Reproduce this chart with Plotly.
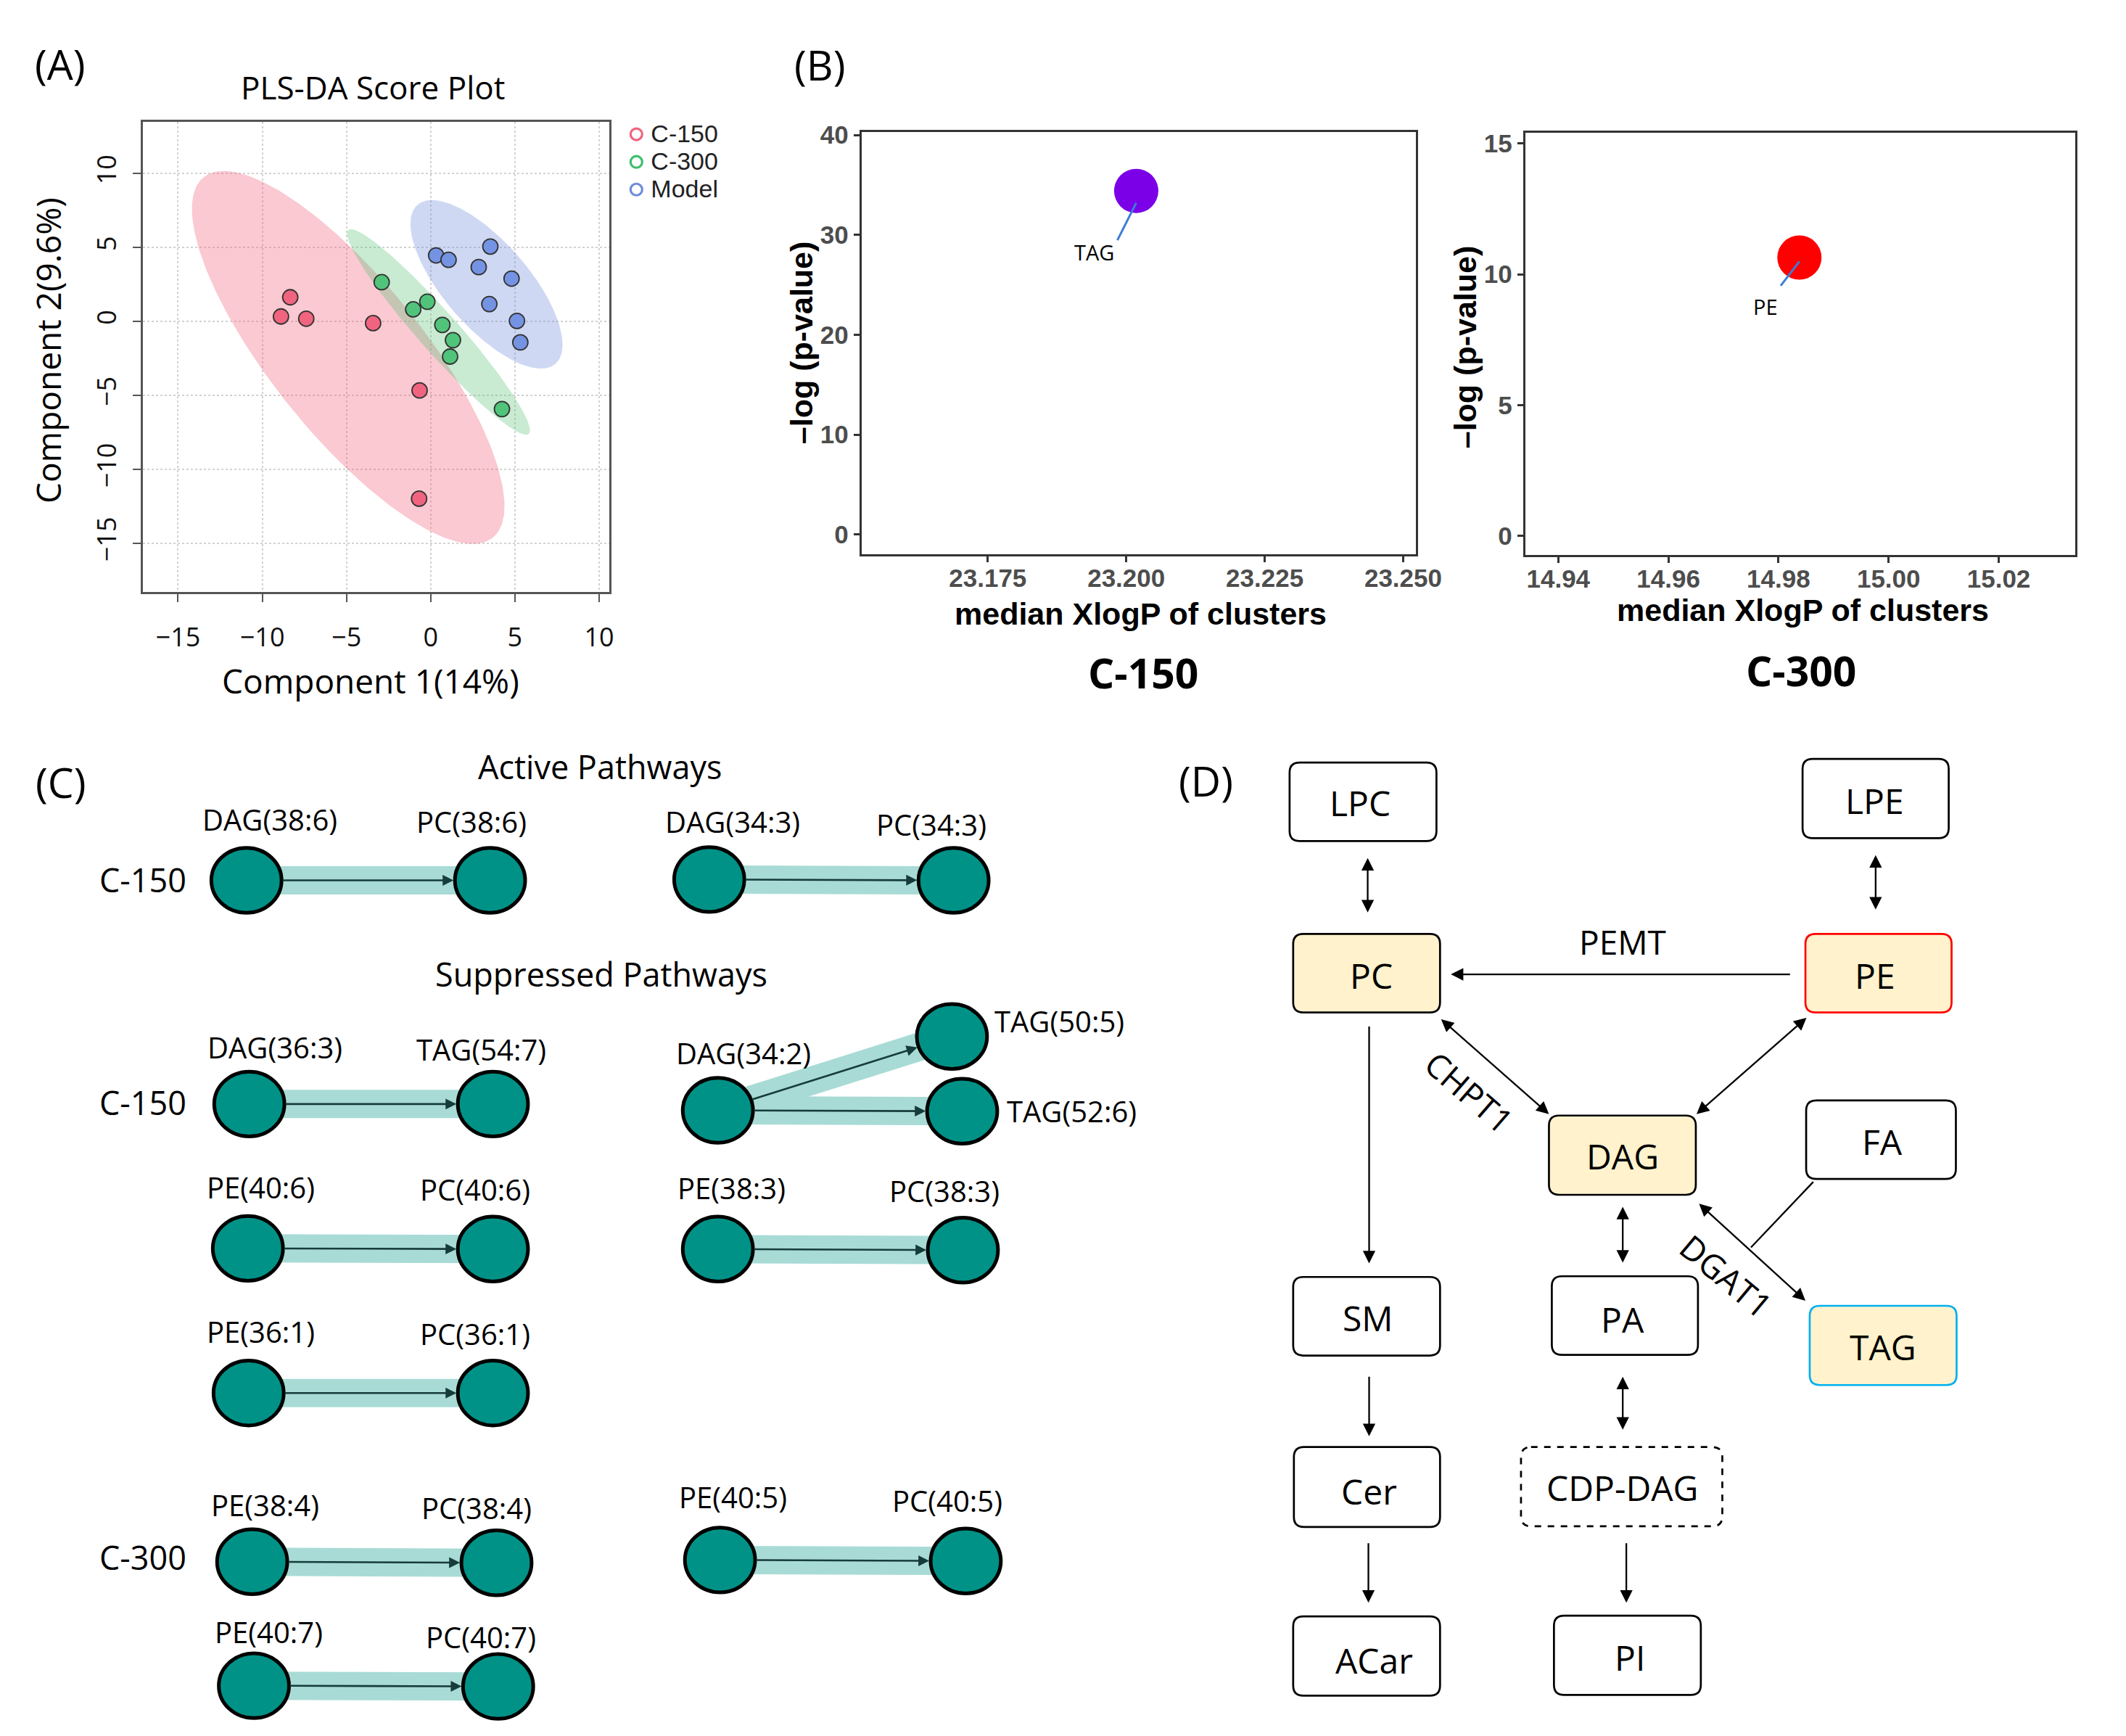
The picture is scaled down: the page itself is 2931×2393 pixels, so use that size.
import numpy as np
import plotly.graph_objects as go

W, H = 2931, 2393

# ---------------- Panel A data (PLS-DA scores) ----------------
a_groups = ["C-150", "C-300", "Model"]
c150_x = [-8.34, -8.89, -7.39, -3.42, -0.66, -0.69]
c150_y = [1.63, 0.33, 0.18, -0.12, -4.67, -11.99]
c300_x = [-2.91, -1.04, -0.20, 0.69, 1.32, 1.15, 4.23]
c300_y = [2.65, 0.81, 1.33, -0.24, -1.27, -2.38, -5.93]
model_x = [0.32, 1.06, 3.54, 2.85, 4.80, 3.48, 5.12, 5.32]
model_y = [4.46, 4.16, 5.06, 3.67, 2.89, 1.17, 0.03, -1.42]
a_xticks = [-15, -10, -5, 0, 5, 10]
a_yticks = [-15, -10, -5, 0, 5, 10]

# ---------------- Panel B data (cluster bubbles) ----------------
b150_x = [23.2018]
b150_y = [34.40]
b150_label = ["TAG"]
b300_x = [14.9838]
b300_y = [10.64]
b300_label = ["PE"]
b150_xticks = [23.175, 23.200, 23.225, 23.250]
b150_xticktext = ["23.175", "23.200", "23.225", "23.250"]
b150_yticks = [0, 10, 20, 30, 40]
b300_xticks = [14.94, 14.96, 14.98, 15.00, 15.02]
b300_xticktext = ["14.94", "14.96", "14.98", "15.00", "15.02"]
b300_yticks = [0, 5, 10, 15]

# ---------------- Panel C data (pathways) ----------------
c_edges = [
    ("DAG(38:6)", "PC(38:6)"), ("DAG(34:3)", "PC(34:3)"),
    ("DAG(36:3)", "TAG(54:7)"), ("DAG(34:2)", "TAG(50:5)"), ("DAG(34:2)", "TAG(52:6)"),
    ("PE(40:6)", "PC(40:6)"), ("PE(38:3)", "PC(38:3)"), ("PE(36:1)", "PC(36:1)"),
    ("PE(38:4)", "PC(38:4)"), ("PE(40:5)", "PC(40:5)"), ("PE(40:7)", "PC(40:7)"),
]
c_row_labels = ["C-150", "C-150", "C-300"]
c_section_titles = ["Active Pathways", "Suppressed Pathways"]

# ---------------- Panel D data (lipid network) ----------------
d_nodes = ["LPC", "LPE", "PC", "PE", "DAG", "FA", "SM", "PA", "TAG", "Cer", "CDP-DAG", "ACar", "PI"]
d_edges = [  # (from, to, both-directions)
    ("LPC", "PC", True), ("LPE", "PE", True), ("PE", "PC", False),
    ("PC", "DAG", True), ("PE", "DAG", True), ("PC", "SM", False),
    ("DAG", "PA", True), ("DAG", "TAG", True), ("SM", "Cer", False),
    ("PA", "CDP-DAG", True), ("Cer", "ACar", False), ("CDP-DAG", "PI", False),
]
d_enzymes = ["PEMT", "CHPT1", "DGAT1"]

# ================= layout helpers (positions / styles) =================
A_COL = ["#F0647F", "#50C47A", "#7593E3"]
A_FILL = ["rgba(242,100,125,0.35)", "rgba(76,190,110,0.31)", "rgba(110,140,220,0.34)"]
LEG_COL = ["#F0647F", "#3DBE6E", "#6E8CDC"]
FONT = "Open Sans"


def conf_ellipse(x, y, n=240, chi2=5.991):
    x = np.asarray(x, float)
    y = np.asarray(y, float)
    cov = np.cov(x, y)
    vals, vecs = np.linalg.eigh(cov)
    t = np.linspace(0, 2 * np.pi, n)
    circ = np.vstack([np.cos(t), np.sin(t)])
    pts = vecs @ (np.sqrt(vals * chi2)[:, None] * circ)
    return x.mean() + pts[0], y.mean() + pts[1]


fig = go.Figure()

# ---- Panel A ----
a_xy = [(c150_x, c150_y), (c300_x, c300_y), (model_x, model_y)]
for i, (xs, ys) in enumerate(a_xy):
    ex, ey = conf_ellipse(xs, ys)
    fig.add_trace(go.Scatter(x=ex, y=ey, mode="lines", fill="toself", fillcolor=A_FILL[i],
                             line=dict(width=0), hoverinfo="skip", showlegend=False,
                             xaxis="x", yaxis="y"))
for i, (xs, ys) in enumerate(a_xy):
    fig.add_trace(go.Scatter(x=xs, y=ys, mode="markers", name=a_groups[i], showlegend=False,
                             marker=dict(size=21, color=A_COL[i], line=dict(color="#333333", width=1.8)),
                             xaxis="x", yaxis="y"))
for i, g in enumerate(a_groups):
    fig.add_trace(go.Scatter(x=[None], y=[None], mode="markers", showlegend=True,
                             name=f'<span style="font-size:34px">{g}</span>',
                             marker=dict(symbol="circle-open", size=16, color=LEG_COL[i], line=dict(width=3.2)),
                             xaxis="x", yaxis="y"))

# ---- Panel B ----
fig.add_trace(go.Scatter(x=b150_x, y=b150_y, mode="markers", showlegend=False,
                         marker=dict(size=61, color="#7B00E8", line=dict(width=0)),
                         xaxis="x2", yaxis="y2"))
fig.add_trace(go.Scatter(x=[b150_x[0], 23.1984], y=[33.2, 29.47], mode="lines", showlegend=False,
                         line=dict(color="#3B7DD8", width=3), xaxis="x2", yaxis="y2"))
fig.add_trace(go.Scatter(x=b300_x, y=b300_y, mode="markers", showlegend=False,
                         marker=dict(size=61, color="#FF0000", line=dict(width=0)),
                         xaxis="x3", yaxis="y3"))
fig.add_trace(go.Scatter(x=[b300_x[0], 14.9804], y=[10.49, 9.56], mode="lines", showlegend=False,
                         line=dict(color="#3B7DD8", width=3), xaxis="x3", yaxis="y3"))

# overlay canvas axis (pixel coordinates, y downwards) for panels C and D
fig.add_trace(go.Scatter(x=[None], y=[None], mode="markers", showlegend=False, hoverinfo="skip",
                         xaxis="x4", yaxis="y4"))

ann = []
shapes = []


def txt(x, y, s, size, color="black", family=FONT, angle=0, xanchor="center", weight="normal"):
    ann.append(dict(x=x, y=y, xref="x4", yref="y4", text=s, showarrow=False, textangle=angle,
                    xanchor=xanchor, yanchor="middle",
                    font=dict(family=family, size=size, color=color, weight=weight)))


def arrow(x0, y0, x1, y1, color="black", width=2.3, size=1.5, both=False):
    a = dict(x=x1, y=y1, ax=x0, ay=y0, xref="x4", yref="y4", axref="x4", ayref="y4",
             text="", showarrow=True, arrowhead=2, arrowsize=size, arrowwidth=width,
             arrowcolor=color, standoff=0, startstandoff=0, font=dict(size=1))
    if both:
        a.update(arrowside="end+start", startarrowhead=2, startarrowsize=size)
    ann.append(a)


# ---- Panel A/B text ----
txt(84, 72, "(A)", 57)
txt(520.5, 105, "PLS-DA Score Plot", 44)
txt(517, 928, "Component 1(14%)", 46)
txt(67, 470, "Component 2(9.6%)", 46, angle=-90)
txt(1144, 73, "(B)", 57)
ann.append(dict(x=b150_x[0] - 0.0076, y=28.27, xref="x2", yref="y2", text=b150_label[0], showarrow=False,
                font=dict(family=FONT, size=29, color="black")))
ann.append(dict(x=b300_x[0] - 0.0062, y=8.78, xref="x3", yref="y3", text=b300_label[0], showarrow=False,
                font=dict(family=FONT, size=29, color="black")))
for (xc, yt) in [(1592.5, 836), (2516.6, 831)]:
    txt(xc, yt, "median XlogP of clusters", 43, family="Liberation Sans", weight="bold")
for (xc, yc) in [(1119, 459), (2044.5, 465)]:
    txt(xc, yc, "\u2013log (p-value)", 43, family="Liberation Sans", weight="bold", angle=-90)
txt(1596, 917, "C-150", 57, weight="bold")
txt(2513.6, 914, "C-300", 57, weight="bold")

# ---- Panel C ----
NODE_POS = {
    "DAG(38:6)": (344, 1205.6), "PC(38:6)": (684, 1205.6), "DAG(34:3)": (990, 1204.4), "PC(34:3)": (1331, 1205.6),
    "DAG(36:3)": (348, 1516), "TAG(54:7)": (688, 1516), "DAG(34:2)": (1002, 1524.7),
    "TAG(50:5)": (1328.7, 1422.3), "TAG(52:6)": (1343, 1526),
    "PE(40:6)": (346, 1716.3), "PC(40:6)": (688, 1717.3), "PE(38:3)": (1002, 1717.3), "PC(38:3)": (1344, 1718.8),
    "PE(36:1)": (347, 1917), "PC(36:1)": (688, 1917),
    "PE(38:4)": (352, 2151.2), "PC(38:4)": (693, 2152.7), "PE(40:5)": (1005, 2148.7), "PC(40:5)": (1348, 2150.2),
    "PE(40:7)": (354.4, 2323.2), "PC(40:7)": (695.3, 2324.2),
}
LABEL_POS = {
    "DAG(38:6)": (377, 1120.6, "center"), "PC(38:6)": (658, 1124.5, "center"),
    "DAG(34:3)": (1023, 1124.5, "center"), "PC(34:3)": (1300, 1128.5, "center"),
    "DAG(36:3)": (384, 1437, "center"), "TAG(54:7)": (671.6, 1439.7, "center"),
    "DAG(34:2)": (1038, 1444.8, "center"), "TAG(50:5)": (1386.5, 1401.3, "left"),
    "TAG(52:6)": (1403, 1526, "left"),
    "PE(40:6)": (363.7, 1631.4, "center"), "PC(40:6)": (663, 1634.4, "center"),
    "PE(38:3)": (1020.8, 1632.9, "center"), "PC(38:3)": (1318, 1636.4, "center"),
    "PE(36:1)": (363.7, 1831.6, "center"), "PC(36:1)": (663, 1835.2, "center"),
    "PE(38:4)": (370, 2072.8, "center"), "PC(38:4)": (665.4, 2076.4, "center"),
    "PE(40:5)": (1023, 2061.2, "center"), "PC(40:5)": (1322.5, 2066.3, "center"),
    "PE(40:7)": (375, 2248.8, "center"), "PC(40:7)": (671.6, 2255.9, "center"),
}
ROW_LABEL_POS = [(199.4, 1205), (199.4, 1514), (199.4, 2145)]
SECTION_POS = [(837, 1047), (839, 1335)]
RX, RY = 49, 45
C_FONT = 40

txt(84.7, 1069, "(C)", 57)
for s, (x, y) in zip(c_section_titles, SECTION_POS):
    txt(x, y, s, 45)
for s, (x, y) in zip(c_row_labels, ROW_LABEL_POS):
    txt(x, y, s, 45)

for src, tgt in c_edges:
    (x0, y0), (x1, y1) = NODE_POS[src], NODE_POS[tgt]
    shapes.append(dict(type="line", xref="x4", yref="y4", x0=x0, y0=y0, x1=x1, y1=y1,
                       line=dict(color="#A8DBD6", width=39), layer="above"))
for name, (cx, cy) in NODE_POS.items():
    shapes.append(dict(type="circle", xref="x4", yref="y4", x0=cx - RX, x1=cx + RX, y0=cy - RY, y1=cy + RY,
                       fillcolor="#009287", line=dict(color="black", width=5), layer="above"))
for src, tgt in c_edges:
    (x0, y0), (x1, y1) = NODE_POS[src], NODE_POS[tgt]
    dx, dy = x1 - x0, y1 - y0
    L = np.hypot(dx, dy)
    ux, uy = dx / L, dy / L
    r = 1.0 / np.sqrt((ux / RX) ** 2 + (uy / RY) ** 2)
    arrow(x0 + ux * r, y0 + uy * r, x1 - ux * (r + 2), y1 - uy * (r + 2), color="#163C3A", width=2.6, size=1.15)
for name, (x, y, xa) in LABEL_POS.items():
    txt(x, y, name, C_FONT, xanchor=xa)

# ---- Panel D ----
BOX = {
    "LPC": (1800, 1042, 2005, 1151), "LPE": (2516, 1037, 2720, 1147),
    "PC": (1805, 1280, 2010, 1389), "PE": (2520, 1280, 2724, 1389),
    "DAG": (2162, 1532, 2367, 1642), "FA": (2521, 1511, 2730, 1620),
    "SM": (1805, 1756, 2010, 1865), "PA": (2166, 1755, 2370, 1864),
    "TAG": (2526, 1796, 2731, 1906), "Cer": (1806, 1992, 2010, 2103),
    "CDP-DAG": (2123, 1992, 2404, 2102), "ACar": (1805, 2227, 2010, 2337),
    "PI": (2169, 2226, 2374, 2336),
}
BOX_TEXT = {
    "LPC": (1898, 1098), "LPE": (2617, 1095), "PC": (1914, 1337), "PE": (2617, 1337),
    "DAG": (2265, 1588), "FA": (2627, 1568), "SM": (1909, 1813), "PA": (2265, 1815),
    "TAG": (2628, 1853), "Cer": (1911, 2053), "CDP-DAG": (2264, 2048), "ACar": (1918, 2288),
    "PI": (2275, 2284),
}
BOX_STYLE = {"PC": ("#FFF2CC", "black"), "PE": ("#FFF2CC", "#FF0000"),
             "DAG": ("#FFF2CC", "black"), "TAG": ("#FFF2CC", "#00B0F0")}
EDGE_PTS = {
    ("LPC", "PC"): (1909, 1173, 1909, 1250), ("LPE", "PE"): (2618, 1169, 2618, 1246),
    ("PE", "PC"): (2500, 1336, 2025, 1336), ("PC", "DAG"): (2010, 1397, 2162, 1530),
    ("PE", "DAG"): (2523, 1395, 2368, 1530), ("PC", "SM"): (1911, 1407, 1911, 1737),
    ("DAG", "PA"): (2265, 1657, 2265, 1736), ("DAG", "TAG"): (2370, 1653, 2520, 1789),
    ("SM", "Cer"): (1911, 1893, 1911, 1977), ("PA", "CDP-DAG"): (2265, 1893, 2265, 1968),
    ("Cer", "ACar"): (1910, 2124, 1910, 2208), ("CDP-DAG", "PI"): (2270, 2124, 2270, 2208),
}
ENZ_POS = {"PEMT": (2265, 1291, 0), "CHPT1": (2051, 1499, 41), "DGAT1": (2410, 1755, 40)}


def rrect(x0, y0, x1, y1, r=14):
    return (f"M{x0 + r},{y0} L{x1 - r},{y0} Q{x1},{y0} {x1},{y0 + r} L{x1},{y1 - r} "
            f"Q{x1},{y1} {x1 - r},{y1} L{x0 + r},{y1} Q{x0},{y1} {x0},{y1 - r} "
            f"L{x0},{y0 + r} Q{x0},{y0} {x0 + r},{y0} Z")


txt(1683, 1067, "(D)", 57)
for n in d_nodes:
    x0, y0, x1, y1 = BOX[n]
    fill, border = BOX_STYLE.get(n, ("white", "black"))
    shapes.append(dict(type="path", xref="x4", yref="y4", path=rrect(x0, y0, x1, y1),
                       fillcolor=fill, layer="above",
                       line=dict(color=border, width=2.7, dash="dash" if n == "CDP-DAG" else "solid")))
    tx, ty = BOX_TEXT[n]
    txt(tx, ty, n, 48)
for a, b, both in d_edges:
    x0, y0, x1, y1 = EDGE_PTS[(a, b)]
    arrow(x0, y0, x1, y1, both=both, width=2.3, size=1.5)
# FA joins the DGAT1 reaction
shapes.append(dict(type="line", xref="x4", yref="y4", x0=2531, y0=1624, x1=2444, y1=1715,
                   line=dict(color="black", width=2.3), layer="above"))
for e in d_enzymes:
    x, y, ang = ENZ_POS[e]
    txt(x, y, e, 46, angle=ang)

# ================= axes & layout =================
a_axis = dict(ticks="outside", ticklen=11, tickwidth=2, tickcolor="#555555", showline=True,
              linecolor="#555555", linewidth=2.5, mirror=True, showgrid=True, gridcolor="#D2D2D2",
              griddash="dot", gridwidth=2, zeroline=False,
              tickfont=dict(family=FONT, size=36, color="#111111"))
b_axis = dict(ticks="outside", ticklen=8, tickwidth=2.5, tickcolor="#333333", showline=True,
              linecolor="#333333", linewidth=3, mirror=True, showgrid=False, zeroline=False,
              tickfont=dict(family="Liberation Sans", size=35, color="#4D4D4D", weight="bold"))

fig.update_layout(
    width=W, height=H, margin=dict(l=0, r=0, t=0, b=0), autosize=False,
    paper_bgcolor="white", plot_bgcolor="rgba(0,0,0,0)",
    font=dict(family=FONT, color="black"),
    xaxis=dict(domain=[199.4 / W, 850.4 / W], range=[-17.09, 10.6], tickvals=a_xticks,
               ticklabelstandoff=18, anchor="y", **a_axis),
    yaxis=dict(domain=[1 - 805.4 / H, 1 - 152.8 / H], range=[-18.3, 13.5], tickvals=a_yticks,
               tickangle=-90, ticklabelstandoff=9, anchor="x", **a_axis),
    xaxis2=dict(domain=[1202.5 / W, 1976.3 / W], range=[23.1522, 23.2523], tickvals=b150_xticks,
                ticktext=b150_xticktext, ticklabelstandoff=-8, anchor="y2", **b_axis),
    yaxis2=dict(domain=[1 - 752.7 / H, 1 - 167.3 / H], range=[-1.94, 40.28], tickvals=b150_yticks,
                anchor="x2", **b_axis),
    xaxis3=dict(domain=[2128.9 / W, 2896.6 / W], range=[14.934, 15.0339], tickvals=b300_xticks,
                ticktext=b300_xticktext, ticklabelstandoff=-8, anchor="y3", **b_axis),
    yaxis3=dict(domain=[1 - 753.8 / H, 1 - 168.5 / H], range=[-0.727, 15.40], tickvals=b300_yticks,
                anchor="x3", **b_axis),
    xaxis4=dict(domain=[0, 1], range=[0, W], visible=False, anchor="y4", fixedrange=True),
    yaxis4=dict(domain=[0, 1], range=[H, 0], visible=False, anchor="x4", fixedrange=True),
    legend=dict(x=868 / W, y=1 - 146 / H, xanchor="left", yanchor="top", bgcolor="rgba(0,0,0,0)",
                font=dict(family="Liberation Sans", size=27, color="#222222"), tracegroupgap=0,
                itemsizing="trace"),
    annotations=ann, shapes=shapes, showlegend=True,
)

fig.write_html("out.html", config={"displayModeBar": False},
               post_script="document.body.style.margin='0';document.body.style.overflow='hidden';")
